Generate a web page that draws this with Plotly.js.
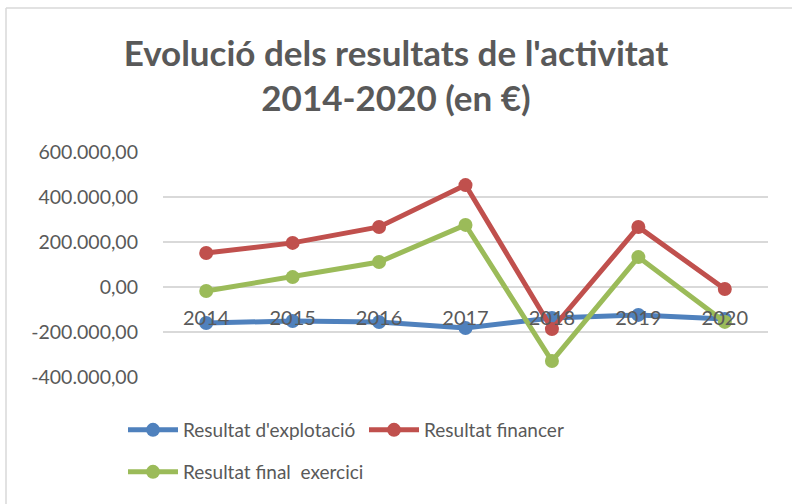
<!DOCTYPE html>
<html><head><meta charset="utf-8">
<script src="https://cdn.plot.ly/plotly-3.0.1.min.js"></script>
<style>html,body{margin:0;padding:0;background:#fff;}#chart{width:792px;height:504px;}</style>
</head><body><div id="chart"></div>
<script>
const years = ['2014','2015','2016','2017','2018','2019','2020'];
const explotacio = [-160000, -151000, -156000, -182000, -138000, -124000, -142000];
const financer = [151000, 196000, 267000, 453000, -187000, 267000, -9000];
const finalExercici = [-18000, 44000, 111000, 276000, -329000, 133000, -155000];
const yTickVals = [600000, 400000, 200000, 0, -200000, -400000];
const yTickText = ['600.000,00', '400.000,00', '200.000,00', '0,00', '-200.000,00', '-400.000,00'];
const seriesNames = ["Resultat d'explotació", 'Resultat financer', 'Resultat final  exercici'];

const font = 'Lato, "Open Sans", sans-serif';
const grey = '#595959';
function tr(y, name, color, legend) {
  return {x: years, y: y, name: name, type: 'scatter', mode: 'lines+markers',
    line: {color: color, width: 5}, marker: {color: color, size: 14}, legend: legend};
}
const data = [
  tr(explotacio, seriesNames[0], '#4f81bd', 'legend'),
  tr(financer, seriesNames[1], '#c0504d', 'legend'),
  tr(finalExercici, seriesNames[2], '#9bbb59', 'legend2')
];
const legendBase = {orientation: 'h', xanchor: 'left', yanchor: 'middle', bgcolor: 'rgba(0,0,0,0)',
  font: {family: font, size: 19, color: grey}, itemwidth: 50, entrywidth: 176, entrywidthmode: 'pixels'};
const layout = {
  width: 792, height: 504,
  margin: {l: 163, r: 24, t: 152, b: 127},
  paper_bgcolor: '#fff', plot_bgcolor: '#fff',
  title: {text: "<b>Evolució dels resultats de l'activitat<br>2014-2020 (en €)</b>",
    font: {family: font, size: 35, color: grey}, x: 0.5, xanchor: 'center', y: 0.87, yanchor: 'middle'},
  xaxis: {type: 'category', range: [-0.5, 6.5], anchor: 'free', position: 0.4,
    showgrid: false, showline: false, zeroline: false, ticks: '', ticklabelstandoff: 17,
    tickfont: {family: font, size: 20, color: grey}},
  yaxis: {range: [-400000, 600000], tickvals: yTickVals, ticktext: yTickText,
    showgrid: true, gridcolor: '#d9d9d9', gridwidth: 1.5, zeroline: false, showline: false,
    ticks: '', ticklabelstandoff: 24, tickfont: {family: font, size: 19.5, color: grey}},
  legend: Object.assign({}, legendBase, {x: (123 - 163) / 605, y: (377 - 430) / 225}),
  legend2: Object.assign({}, legendBase, {x: (123 - 163) / 605, y: (377 - 472) / 225}),
  shapes: [
    {type: 'line', xref: 'paper', yref: 'paper', x0: (6 - 163) / 605, x1: (6 - 163) / 605, y0: (377 - 8) / 225, y1: (377 - 510) / 225,
      line: {color: '#d9d9d9', width: 1.5}},
    {type: 'line', xref: 'paper', yref: 'paper', x0: (6 - 163) / 605, x1: (800 - 163) / 605, y0: (377 - 8) / 225, y1: (377 - 8) / 225,
      line: {color: '#d9d9d9', width: 1.5}}
  ]
};
Plotly.newPlot('chart', data, layout, {displayModeBar: false, staticPlot: true});
</script></body></html>
